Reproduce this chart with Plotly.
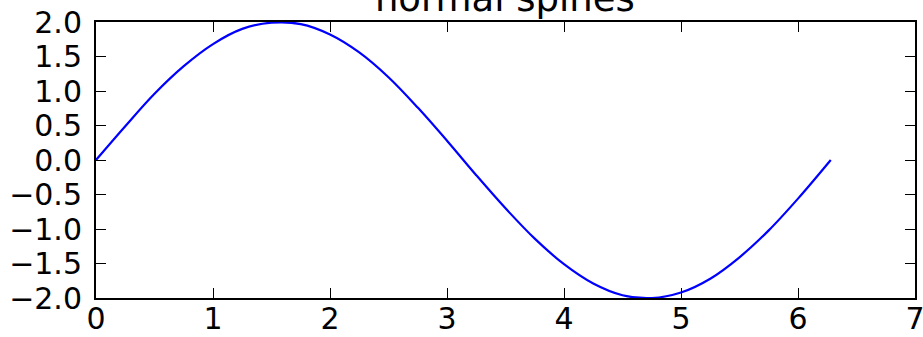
import plotly.graph_objects as go

# points
x_vals = [0, 0.25, 0.5, 0.75, 1.0, 1.25, 1.5, 1.75, 2.0, 2.25, 2.5, 2.75, 3.0,
          3.25, 3.5, 3.75, 4.0, 4.25, 4.5, 4.75, 5.0, 5.25, 5.5, 5.75, 6.0, 6.28]
y_vals = [0, 0.49, 0.96, 1.36, 1.68, 1.90, 1.99, 1.97, 1.82, 1.56, 1.20, 0.76, 0.28,
          -0.22, -0.70, -1.14, -1.51, -1.79, -1.96, -2.0, -1.92, -1.72, -1.41, -1.02, -0.56, 0]

x_ticks = [0, 1, 2, 3, 4, 5, 6, 7]
y_ticks = [-2.0, -1.5, -1.0, -0.5, 0.0, 0.5, 1.0, 1.5, 2.0]

font = "DejaVu Sans"

fig = go.Figure()
fig.add_trace(go.Scatter(
    x=x_vals, y=y_vals, mode="lines",
    line=dict(color="#0000ff", width=2.2, shape="spline", smoothing=1.0),
    showlegend=False, hoverinfo="skip",
))

axis_common = dict(
    showgrid=False, zeroline=False, automargin=False,
    showline=True, linecolor="black", linewidth=2, mirror="allticks",
    ticks="inside", ticklen=10, tickwidth=1, tickcolor="black",
    tickfont=dict(family=font, size=30, color="black"),
    ticklabeloverflow="allow",
)

fig.update_xaxes(range=[0, 7], tickvals=x_ticks, ticktext=[str(t) for t in x_ticks],
                 ticklabelstandoff=-7, **axis_common)
fig.update_yaxes(range=[-2, 2], tickvals=y_ticks, tickformat=".1f",
                 ticklabelstandoff=6, **axis_common)

fig.update_layout(
    width=923, height=337,
    margin=dict(l=96, r=8, t=22, b=39),
    paper_bgcolor="white", plot_bgcolor="white",
    title=dict(text="normal spines", x=0.547, xanchor="center",
               yref="container", y=0.968, yanchor="bottom", automargin=False,
               font=dict(family=font, size=37, color="black")),
)

# drop the page's default body margin so the figure sits at the window corner
fig.write_html("out.html", config={"displayModeBar": False},
               post_script="document.body.style.margin='0';")
